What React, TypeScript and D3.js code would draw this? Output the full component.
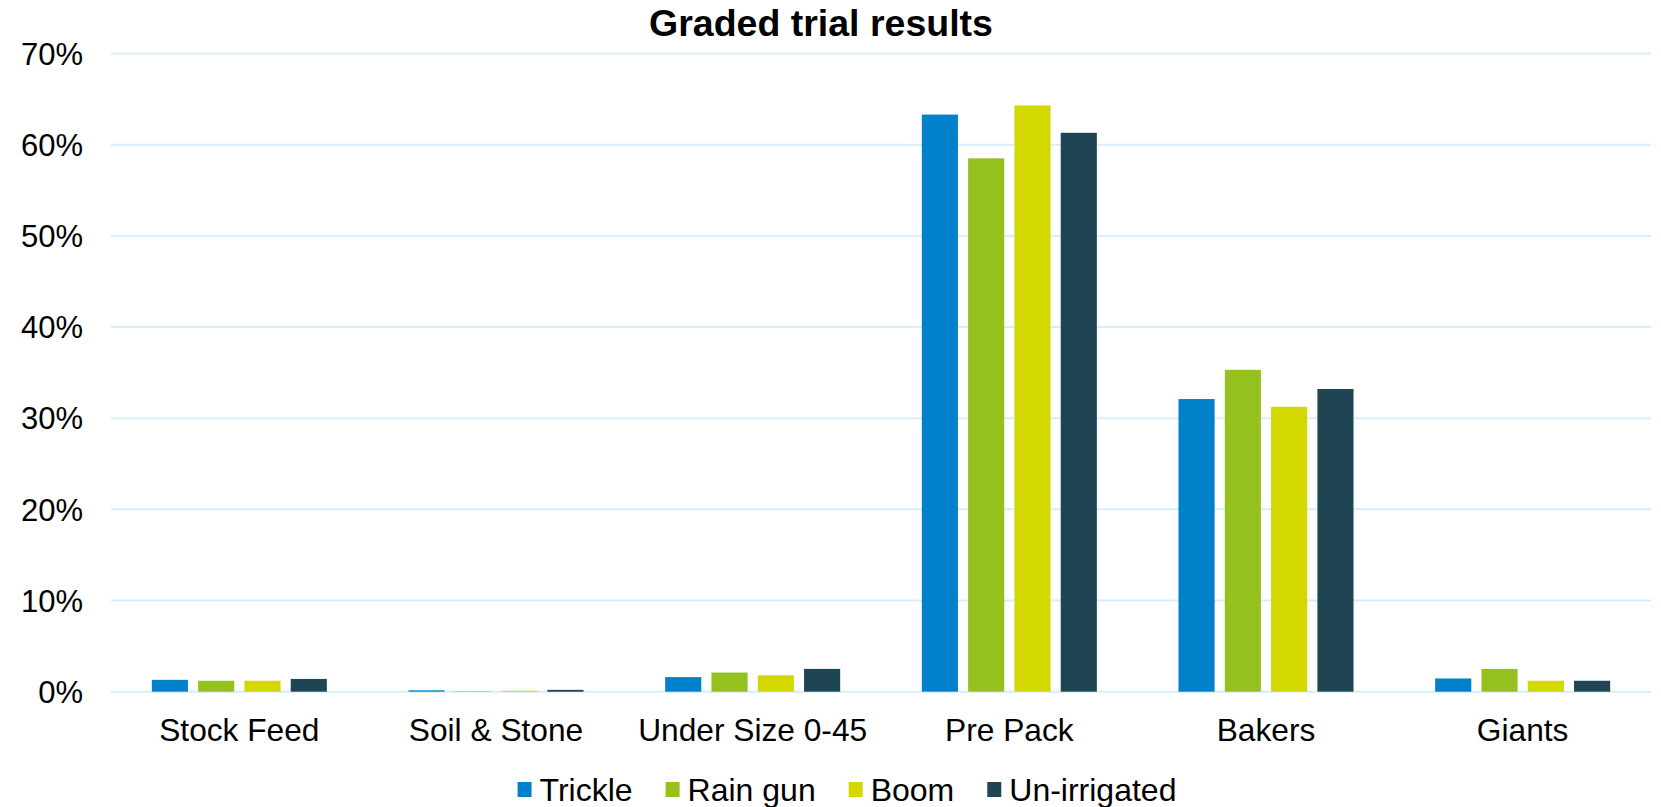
import React, { useEffect, useRef } from 'react';
import * as d3 from 'd3';

const categories = ['Stock Feed', 'Soil & Stone', 'Under Size 0-45', 'Pre Pack', 'Bakers', 'Giants'];
const seriesNames = ['Trickle', 'Rain gun', 'Boom', 'Un-irrigated'];
const trickle = [1.3, 0.15, 1.6, 63.3, 32.1, 1.45];
const rainGun = [1.2, 0.05, 2.1, 58.5, 35.3, 2.5];
const boom = [1.2, 0.1, 1.8, 64.3, 31.25, 1.2];
const unIrrigated = [1.4, 0.2, 2.5, 61.3, 33.2, 1.2];
const yTicks = [0, 10, 20, 30, 40, 50, 60, 70];
const colors = ['#0081C9', '#95C11F', '#D2D800', '#1F4453'];

const W = 1661, H = 807;
const FONT = 'Liberation Sans, Arial, sans-serif';

export default function App() {
    const ref = useRef<SVGSVGElement>(null);

    useEffect(() => {
        const svg = d3.select(ref.current);
        svg.selectAll('*').remove();

        const margin = {top: 53.5, right: 10, bottom: 115.3, left: 111},
            plotW = W - margin.left - margin.right,
            plotH = H - margin.top - margin.bottom;

        const values = [trickle, rainGun, boom, unIrrigated];
        const data = categories.map((cat, i) => ({
            cat,
            vals: seriesNames.map((s, j) => ({s, v: values[j][i], c: colors[j]}))
        }));

        const x0 = d3.scaleBand().domain(categories).range([0, plotW]);
        const x1 = d3.scaleBand().domain(seriesNames)
            .range([-92.6, 92.6]).paddingInner(0.22).paddingOuter(0.11);
        const y = d3.scaleLinear().domain([0, 70]).range([plotH, 0]);

        const g = svg.append('g').attr('transform', `translate(${margin.left},${margin.top})`);

        // gridlines
        g.selectAll('.grid').data(yTicks).enter().append('line')
            .attr('x1', 0).attr('x2', plotW)
            .attr('y1', d => y(d)).attr('y2', d => y(d))
            .attr('stroke', '#D6EEFA').attr('stroke-width', 2);

        // y tick labels
        g.selectAll('.ytick').data(yTicks).enter().append('text')
            .attr('x', -28).attr('y', d => y(d))
            .attr('dy', '0.36em')
            .attr('text-anchor', 'end')
            .style('font', `31px ${FONT}`)
            .attr('fill', '#000')
            .text(d => d + '%');

        // bars
        const group = g.selectAll('.cat').data(data).enter().append('g')
            .attr('transform', d => `translate(${(x0(d.cat) as number) + x0.bandwidth() / 2},0)`);
        group.selectAll('rect').data(d => d.vals).enter().append('rect')
            .attr('x', d => x1(d.s) as number)
            .attr('width', x1.bandwidth())
            .attr('y', d => y(d.v))
            .attr('height', d => plotH - y(d.v))
            .attr('fill', d => d.c);

        // category labels
        g.selectAll('.xlab').data(categories).enter().append('text')
            .attr('x', d => (x0(d) as number) + x0.bandwidth() / 2)
            .attr('y', plotH + 49)
            .attr('text-anchor', 'middle')
            .style('font', `31.7px ${FONT}`)
            .attr('fill', '#000')
            .text(d => d);

        // title
        svg.append('text')
            .attr('x', 821).attr('y', 36)
            .attr('text-anchor', 'middle')
            .style('font', `bold 37.5px ${FONT}`)
            .attr('fill', '#000')
            .text('Graded trial results');

        // legend
        const legend = svg.append('g');
        let cursor = 0;
        const gap = 33;
        seriesNames.forEach((s, i) => {
            const item = legend.append('g').attr('transform', `translate(${cursor},0)`);
            item.append('rect').attr('x', 0).attr('y', -7).attr('width', 14).attr('height', 15).attr('fill', colors[i]);
            const t = item.append('text').attr('x', 22).attr('y', 0).attr('dy', '0.36em')
                .style('font', `32px ${FONT}`).attr('fill', '#000').text(s);
            const tw = (t.node() as SVGTextElement).getComputedTextLength();
            cursor += 22 + tw + gap;
        });
        const legendW = cursor - gap;
        legend.attr('transform', `translate(${847 - legendW / 2},789)`);
    }, []);

    return (
        <svg ref={ref} width={W} height={H} style={{display: 'block', position: 'absolute', left: 0, top: 0, background: '#fff'}} />
    );
}
